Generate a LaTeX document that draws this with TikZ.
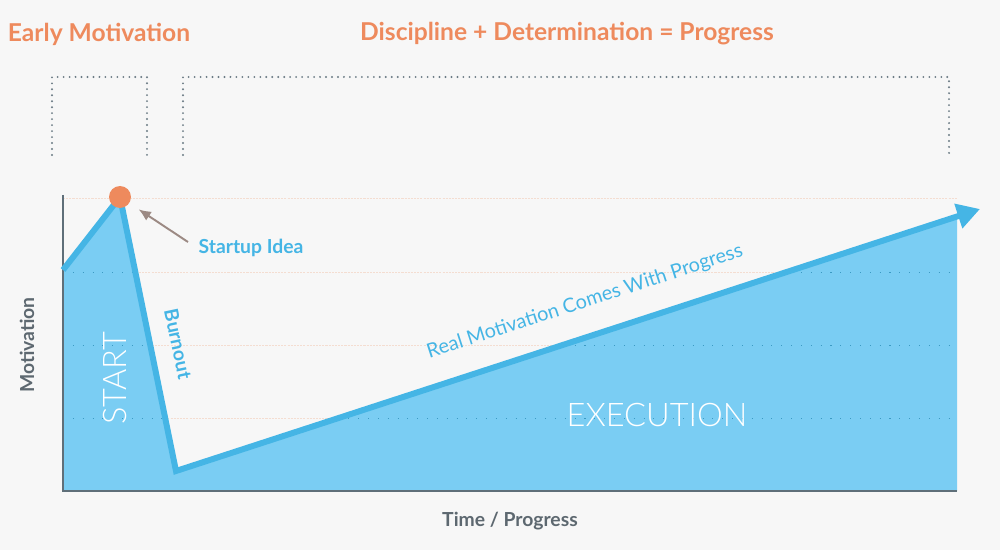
\documentclass[tikz,border=0pt]{standalone}
\usepackage{fontspec}
\setmainfont{Lato}
\newfontfamily\thinfont{Lato Light}
\usepackage{xcolor}
\usetikzlibrary{arrows.meta,positioning}
\definecolor{bgc}{HTML}{F7F7F7}
\definecolor{orng}{HTML}{EE8A5D}
\definecolor{lineblue}{HTML}{45B5E5}
\definecolor{fillblue}{HTML}{7ACDF3}
\definecolor{axisgray}{HTML}{5F6F79}
\definecolor{txtgray}{HTML}{5D6870}
\definecolor{ptrc}{HTML}{9C8A84}
\definecolor{gridor}{HTML}{F4DDD1}
\definecolor{dotgray}{HTML}{6A7A84}

\begin{document}
\begin{tikzpicture}[x=0.02cm,y=-0.02cm,>=Latex,every node/.style={font=\small},
   title/.style={text=orng,font=\fontsize{14}{16}\selectfont\bfseries},
   axislabel/.style={text=txtgray,font=\fontsize{11}{13}\selectfont\bfseries},
   note/.style={text=lineblue,font=\fontsize{11}{13}\selectfont\bfseries},
   phase/.style={text=white,font=\fontsize{18.5}{20}\selectfont\thinfont},
   bracket/.style={draw=dotgray,line width=1.2pt,line cap=round,dash pattern=on 0pt off 3.4pt},
   gridline/.style={draw=gridor,line width=0.5pt,dash pattern=on 1.2pt off 0.6pt},
   griddots/.style={draw=lineblue!85!black,line width=0.5pt,dash pattern=on 0.6pt off 5pt},
   curve/.style={draw=lineblue,line width=3.4pt,line join=miter},
   pointer/.style={draw=ptrc,line width=1.1pt,shorten >=2.2mm,-{Latex[length=7pt,width=6pt]}}]
\fill[bgc] (0,0) rectangle (1000,550);
% chart corners
\coordinate (origin) at (63,491);
\coordinate (ytop) at (63,195);
\coordinate (xend) at (957,491);
\coordinate (start) at (63,270);
\coordinate (peak) at (120,197);
\coordinate (low) at (176,471);
\coordinate (edge) at (957,216);
\coordinate (tip) at (980,209);
% grid
\foreach \y in {198,272,345,418}
  \draw[gridline] (63,\y) -- (957,\y);
\fill[fillblue] (start) -- (peak) -- (low) -- (edge) -- (xend) -- (origin) -- cycle;
\begin{scope}
  \clip (start) -- (peak) -- (low) -- (edge) -- (xend) -- (origin) -- cycle;
  \foreach \y in {198,272,345,418}
    \draw[griddots] (63,\y) -- (957,\y);
\end{scope}
\draw[axisgray,line width=1.7pt] (ytop) -- (origin) -- (xend);
\draw[curve,-{Triangle[length=13pt,width=14pt]}] (start) -- (peak) -- (low) -- (tip);
\node[circle,fill=orng,inner sep=0pt,minimum size=4.4mm] (dot) at (peak) {};
% labels
\node[note] (idea) at (251,248) {Startup Idea};
\coordinate (ptr) at (188,242);
\draw[pointer] (ptr) -- (dot);
\node[note,rotate=-78,inner sep=1pt] (burn) at (178,344) {Burnout};
\node[note,font=\fontsize{11.3}{13}\selectfont,rotate=18] (real) at (585,302) {Real Motivation Comes With Progress};
\node[phase,rotate=90] (startlbl) at (115,378) {START};
\node[phase] (exec) at (657,415) {EXECUTION};
\node[axislabel,rotate=90] (ylab) at (27,345) {Motivation};
\node[axislabel] (xlab) at (510,521) {Time / Progress};
\node[title] (early) at (99,34) {Early Motivation};
\node[title] (disc) at (567,34) {Discipline + Determination = Progress};
% brackets
\draw[bracket] (52,155) |- (147,77) -- (147,155);
\draw[bracket] (183,155) |- (949,77) -- (949,155);
\end{tikzpicture}
\end{document}
